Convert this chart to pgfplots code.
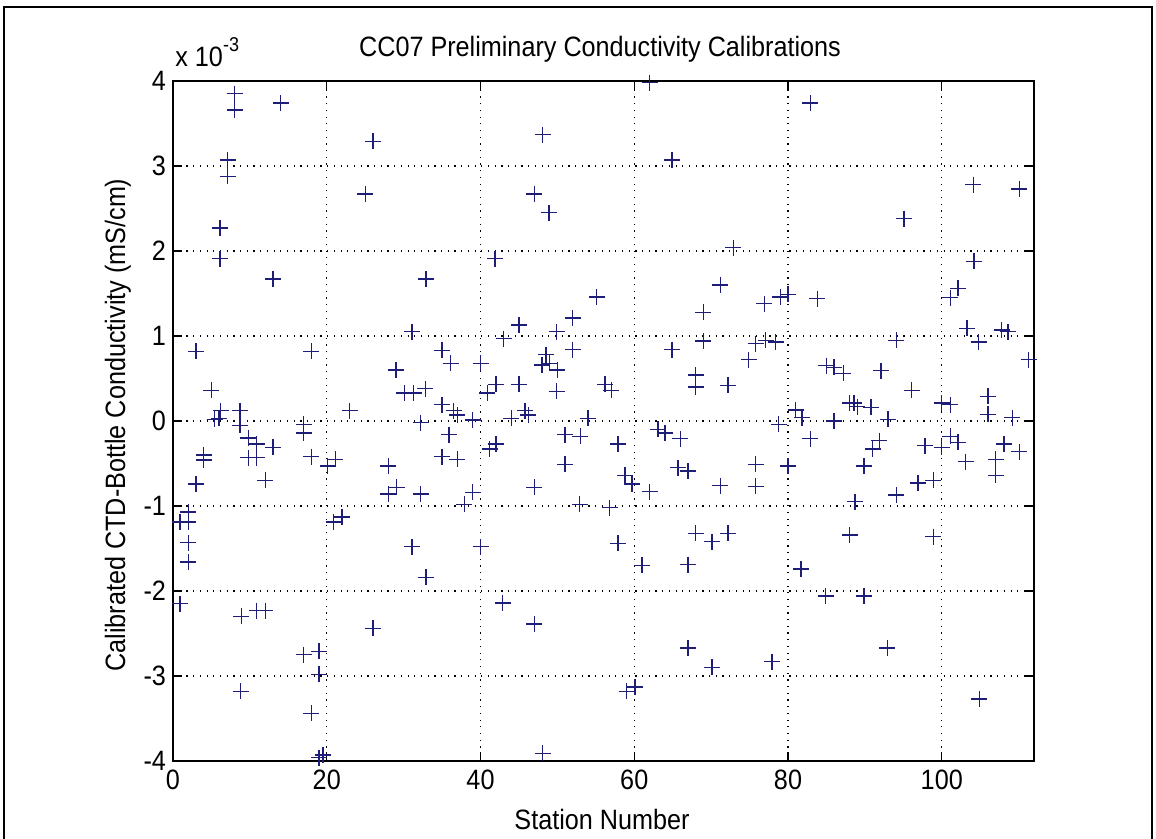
\documentclass[border=0pt]{standalone}
\usepackage{fontspec}
\setmainfont{Liberation Sans}[FakeStretch=0.9]
\usepackage{pgfplots}
\usepackage{pgfplotstable}
\pgfplotsset{compat=1.18}

\definecolor{mlblue}{RGB}{30,30,120}
\def\fsz{\fontsize{14pt}{16pt}\selectfont}

% conductivity difference in units of 1e-3 mS/cm
\pgfplotstableread{
x y
8.0 3.85
8.0 3.66
14.0 3.74
26.0 3.29
7.1 3.07
7.1 2.88
25.0 2.67
6.1 2.27
6.1 1.91
13.0 1.67
32.9 1.67
31.1 1.05
3.0 0.82
18.0 0.82
35.0 0.83
36.1 0.68
29.0 0.60
5.0 0.36
30.1 0.33
31.3 0.33
32.8 0.38
8.7 0.12
6.2 0.12
23.0 0.12
35.0 0.19
36.5 0.12
5.4 0.02
6.0 0.03
8.7 -0.05
17.0 -0.04
17.0 -0.14
32.2 -0.02
9.8 -0.20
10.9 -0.27
13.0 -0.31
4.0 -0.40
4.0 -0.46
9.8 -0.43
10.9 -0.43
18.0 -0.42
20.1 -0.53
21.1 -0.45
28.0 -0.53
35.9 -0.16
35.0 -0.42
37.0 -0.45
3.0 -0.74
12.0 -0.70
28.0 -0.86
29.1 -0.78
32.2 -0.86
2.0 -1.07
2.0 -1.19
0.9 -1.19
2.0 -1.43
2.0 -1.66
20.9 -1.19
22.0 -1.13
31.1 -1.48
32.9 -1.84
0.9 -2.15
8.9 -2.30
10.9 -2.23
12.0 -2.23
26.0 -2.44
17.0 -2.75
19.0 -2.71
19.0 -2.98
8.8 -3.18
18.0 -3.44
19.0 -3.96
19.5 -3.93
62.0 3.98
48.1 3.37
64.9 3.07
47.0 2.67
48.9 2.45
72.9 2.04
41.9 1.91
71.2 1.60
55.1 1.46
69.0 1.28
52.0 1.21
45.0 1.13
49.9 1.05
43.0 0.97
69.0 0.94
64.9 0.84
52.0 0.84
48.5 0.78
40.0 0.68
48.0 0.66
49.0 0.68
50.0 0.60
45.0 0.43
42.0 0.43
40.9 0.33
49.9 0.35
56.2 0.43
57.0 0.36
68.0 0.54
68.0 0.40
72.2 0.42
74.9 0.72
37.0 0.07
39.0 0.01
44.0 0.03
45.8 0.12
46.2 0.07
54.0 0.03
51.0 -0.16
53.0 -0.18
57.9 -0.27
63.1 -0.10
64.0 -0.14
66.0 -0.21
41.2 -0.33
42.0 -0.27
51.0 -0.51
47.0 -0.78
39.0 -0.84
37.9 -0.98
52.9 -0.98
56.8 -1.02
58.8 -0.64
59.7 -0.74
62.0 -0.83
65.7 -0.55
67.0 -0.59
71.2 -0.76
40.0 -1.48
57.9 -1.44
61.0 -1.70
67.0 -1.69
68.0 -1.32
70.1 -1.42
72.2 -1.32
42.9 -2.14
47.0 -2.39
67.0 -2.67
70.1 -2.90
59.0 -3.18
60.1 -3.13
48.1 -3.91
82.9 3.74
104.1 2.78
110.1 2.73
95.1 2.38
104.2 1.88
102.1 1.56
101.1 1.45
76.9 1.38
79.0 1.46
80.0 1.49
83.8 1.44
75.8 0.91
77.1 0.95
78.4 0.93
94.1 0.95
85.0 0.65
86.0 0.63
87.2 0.56
92.1 0.59
96.1 0.36
81.0 0.13
81.8 0.04
88.0 0.21
88.6 0.21
89.0 0.17
90.8 0.16
93.0 0.02
100.0 0.21
101.1 0.19
106.0 0.29
106.0 0.08
109.2 0.04
103.3 1.09
104.8 0.93
107.8 1.07
108.6 1.05
111.3 0.72
86.0 0.00
78.8 -0.04
82.9 -0.21
75.8 -0.51
75.8 -0.77
80.0 -0.53
91.9 -0.23
91.0 -0.33
89.9 -0.53
88.7 -0.95
94.1 -0.87
96.9 -0.73
98.9 -0.70
97.8 -0.29
100.0 -0.31
101.1 -0.18
102.1 -0.25
103.1 -0.48
107.0 -0.45
107.0 -0.64
108.1 -0.27
110.1 -0.36
88.0 -1.34
98.9 -1.36
81.7 -1.74
84.9 -2.06
89.9 -2.06
92.9 -2.67
77.9 -2.83
104.9 -3.27
}\calib

\begin{document}
\begin{tikzpicture}[font=\fsz]
  % frame and text, in pixel units of the reference
  \begin{scope}[x=0.5pt, y=-0.5pt]
    \useasboundingbox (0,0) rectangle (1156,839);
    \draw[line width=1pt] (4,845) -- (4,7) -- (1152,7) -- (1152,845);
    \node[anchor=base] at (600,57) {CC07 Preliminary Conductivity Calibrations};
    \node[anchor=base] at (602,829) {Station Number};
    \node[anchor=base, rotate=90] at (125,425) {Calibrated CTD-Bottle Conductivity (mS/cm)};
    \node[anchor=base west, inner sep=0pt] at (175,67) {x 10\raisebox{0.55em}{\fontsize{10pt}{12pt}\selectfont -3}};
  \end{scope}

  \begin{axis}[
    at={(86.5pt,-40.5pt)}, anchor=north west,
    scale only axis,
    width=430.5pt, height=340pt,
    xmin=0, xmax=112,
    ymin=-4, ymax=4,
    xtick={0,20,...,100},
    ytick={-4,-3,...,4},
    clip=false,
    tick align=inside,
    major tick length=4.5pt,
    axis line style={line width=0.7pt},
    every tick/.style={black, line width=0.7pt},
    grid=major,
    major grid style={black, line width=0.6pt, dash pattern=on 0.6pt off 2.75pt},
    tick label style={font=\fsz},
    /pgf/number format/assume math mode=true,
    xticklabel style={yshift=-1pt},
  ]
    \addplot[only marks, mark=+, mark size=4pt, mlblue, mark options={line width=0.65pt}]
      table[x=x, y=y] {\calib};
  \end{axis}
\end{tikzpicture}
\end{document}
